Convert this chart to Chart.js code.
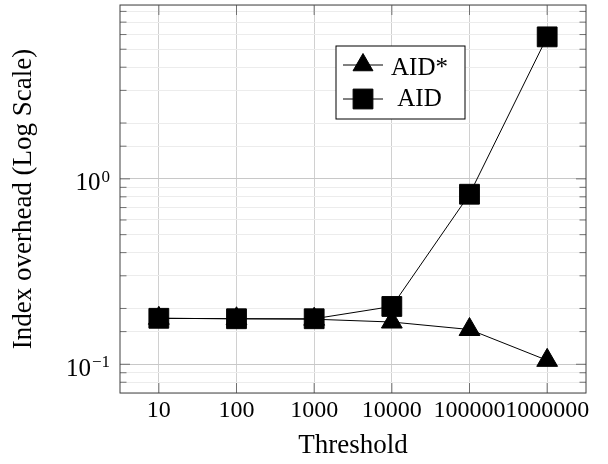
<!DOCTYPE html>
<html lang="en">
<head>
    <meta charset="UTF-8">
    <title>Index overhead vs. threshold</title>
    <script src="https://cdn.jsdelivr.net/npm/chart.js"></script>
    <style>
        body {
            margin: 0;
            background: #ffffff;
        }
        #overheadChart {
            display: block;
        }
    </style>
</head>
<body>
    <canvas id="overheadChart" width="608" height="464"></canvas>
    <script>
        // thresholds on the x axis and index overhead for each variant
        const thresholds = ['10', '100', '1000', '10000', '100000', '1000000'];
        const aidStar = [0.177, 0.176, 0.175, 0.169, 0.154, 0.105];
        const aid = [0.177, 0.176, 0.176, 0.205, 0.826, 5.83];

        const yMin = 0.07;
        const yMax = 8.66;
        const serif = '"Liberation Serif", "Times New Roman", serif';

        // frame, inward ticks, 10^n labels and the boxed legend
        const pgfLook = {
            id: 'pgfLook',
            beforeDatasetsDraw(chart) {
                const { ctx, chartArea: a, scales: { x, y } } = chart;
                ctx.save();
                ctx.strokeStyle = '#707070';
                ctx.lineWidth = 1;
                ctx.beginPath();
                x.ticks.forEach((t, i) => {
                    const px = x.getPixelForTick(i);
                    ctx.moveTo(px, a.top);
                    ctx.lineTo(px, a.top + 10);
                    ctx.moveTo(px, a.bottom);
                    ctx.lineTo(px, a.bottom - 10);
                });
                y.ticks.forEach(t => {
                    const py = y.getPixelForValue(t.value);
                    if (py <= a.top + 1 || py >= a.bottom - 1) return;
                    const len = t.major ? 10 : 6.5;
                    ctx.moveTo(a.left, py);
                    ctx.lineTo(a.left + len, py);
                    ctx.moveTo(a.right, py);
                    ctx.lineTo(a.right - len, py);
                });
                ctx.stroke();
                ctx.restore();
            },
            afterDatasetsDraw(chart) {
                const { ctx, chartArea: a, scales: { y } } = chart;
                ctx.save();

                // axis box
                ctx.strokeStyle = '#404040';
                ctx.lineWidth = 1;
                ctx.strokeRect(a.left, a.top, a.right - a.left, a.bottom - a.top);

                // y tick labels as 10 with a raised exponent
                ctx.fillStyle = '#000';
                ctx.textBaseline = 'alphabetic';
                ctx.textAlign = 'right';
                y.ticks.forEach(t => {
                    if (!t.major) return;
                    const py = y.getPixelForValue(t.value);
                    const exp = String(Math.round(Math.log10(t.value))).replace('-', '\u2212');
                    const right = a.left - 10;
                    ctx.font = '17px ' + serif;
                    const ew = ctx.measureText(exp).width;
                    ctx.fillText(exp, right, py + 3);
                    ctx.font = '25px ' + serif;
                    ctx.fillText('10', right - ew - 1, py + 11.5);
                });

                // legend box
                const box = { left: 336, top: 46, right: 465, bottom: 119 };
                ctx.fillStyle = '#fff';
                ctx.fillRect(box.left, box.top, box.right - box.left, box.bottom - box.top);
                ctx.strokeStyle = '#000';
                ctx.strokeRect(box.left, box.top, box.right - box.left, box.bottom - box.top);

                const rows = [65, 99];
                const textBase = [75, 105.5];
                chart.data.datasets.forEach((ds, i) => {
                    const ry = rows[i];
                    ctx.strokeStyle = '#000';
                    ctx.lineWidth = 1;
                    ctx.beginPath();
                    ctx.moveTo(343, ry);
                    ctx.lineTo(383, ry);
                    ctx.stroke();
                    ctx.fillStyle = '#000';
                    Chart.helpers.drawPoint(ctx, {
                        pointStyle: ds.pointStyle,
                        radius: ds.pointStyle === 'rect' ? 14 : 11.5,
                        rotation: 0,
                        borderWidth: 1
                    }, 363, ry);
                    ctx.font = '25px ' + serif;
                    ctx.textAlign = 'center';
                    ctx.fillText(ds.label, 419.5, textBase[i]);
                });
                ctx.restore();
            }
        };

        // fixed axis sizes, no extra padding from label overflow
        function fixBox(scale, size) {
            if (scale.isHorizontal()) {
                scale.height = size;
            } else {
                scale.width = size;
            }
            scale.paddingTop = 0;
            scale.paddingBottom = 0;
            scale.paddingLeft = 0;
            scale.paddingRight = 0;
        }

        const ctx = document.getElementById('overheadChart').getContext('2d');
        new Chart(ctx, {
            type: 'line',
            data: {
                labels: thresholds,
                datasets: [
                    {
                        label: 'AID*',
                        data: aidStar,
                        order: 1,
                        borderColor: '#000',
                        borderWidth: 1,
                        pointStyle: 'triangle',
                        pointRadius: 12,
                        pointBackgroundColor: '#000',
                        pointBorderColor: '#000',
                        pointBorderWidth: 1,
                        tension: 0
                    },
                    {
                        label: 'AID',
                        data: aid,
                        order: 0,
                        borderColor: '#000',
                        borderWidth: 1,
                        pointStyle: 'rect',
                        pointRadius: 14,
                        pointBackgroundColor: '#000',
                        pointBorderColor: '#000',
                        pointBorderWidth: 1,
                        tension: 0
                    }
                ]
            },
            options: {
                responsive: false,
                animation: false,
                events: [],
                layout: {
                    autoPadding: false,
                    padding: { top: 5, right: 22, left: 0, bottom: 0 }
                },
                scales: {
                    x: {
                        type: 'category',
                        offset: true,
                        grid: {
                            color: '#d0d0d0',
                            lineWidth: 1,
                            drawTicks: false
                        },
                        border: { display: false },
                        ticks: {
                            color: '#000',
                            padding: 3,
                            maxRotation: 0,
                            autoSkip: false,
                            font: { family: serif, size: 24 }
                        },
                        title: {
                            display: true,
                            text: 'Threshold',
                            color: '#000',
                            font: { family: serif, size: 27 },
                            padding: { top: 0, bottom: 2 }
                        },
                        afterFit(scale) {
                            fixBox(scale, 71);
                        }
                    },
                    y: {
                        type: 'logarithmic',
                        min: yMin,
                        max: yMax,
                        grid: {
                            color: c => (c.tick && c.tick.major) ? '#c8c8c8' : '#ececec',
                            lineWidth: 1,
                            drawTicks: false
                        },
                        border: { display: false },
                        ticks: { display: false },
                        title: {
                            display: true,
                            text: 'Index overhead (Log Scale)',
                            color: '#000',
                            font: { family: serif, size: 27 },
                            padding: { top: 8, bottom: 0 }
                        },
                        afterFit(scale) {
                            fixBox(scale, 120);
                        }
                    }
                },
                plugins: {
                    legend: { display: false },
                    tooltip: { enabled: false }
                }
            },
            plugins: [pgfLook]
        });
    </script>
</body>
</html>
